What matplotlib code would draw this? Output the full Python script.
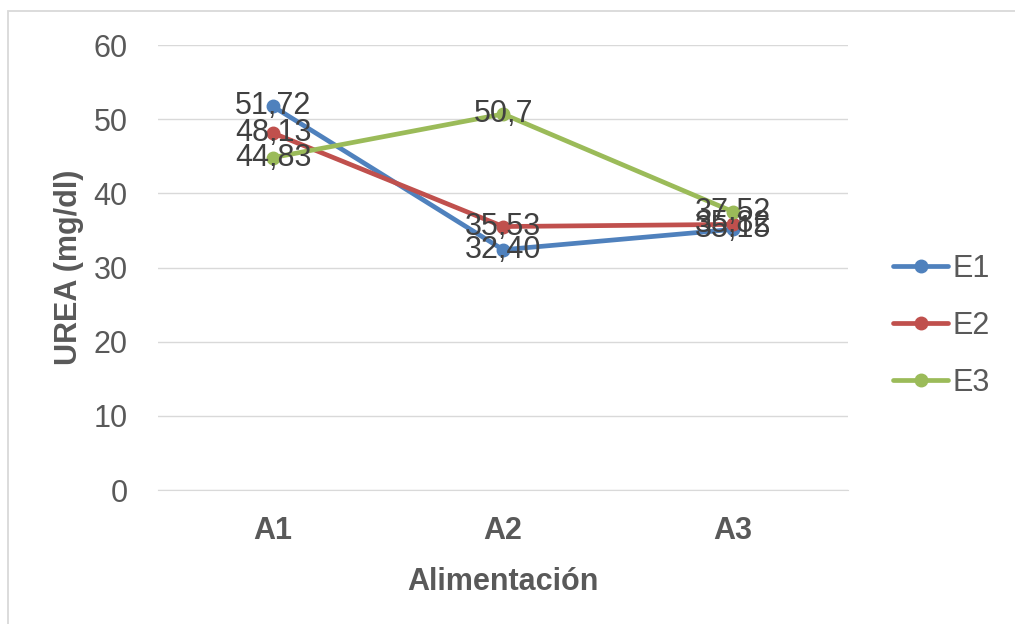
import matplotlib.pyplot as plt
from matplotlib.patches import Rectangle

plt.rcParams['font.family'] = ['Liberation Sans', 'DejaVu Sans']

categories = ['A1', 'A2', 'A3']
series_names = ['E1', 'E2', 'E3']
e1 = [51.72, 32.40, 35.15]
e2 = [48.13, 35.53, 35.82]
e3 = [44.83, 50.7, 37.52]
e1_labels = ['51,72', '32,40', '35,15']
e2_labels = ['48,13', '35,53', '35,82']
e3_labels = ['44,83', '50,7', '37,52']
colors = ['#4F81BD', '#C0504D', '#9BBB59']

fig = plt.figure(figsize=(10.15, 6.24), dpi=100)
# chart area border (cut off by the image on the right and bottom)
fig.patches.append(Rectangle((0.0079, -0.05), 1.2, 1.0324, transform=fig.transFigure,
                             fill=False, edgecolor='#D9D9D9', linewidth=1.3))
ax = fig.add_axes([0.1557, 0.2147, 0.680, 0.7131])

x = range(len(categories))
all_vals = [e1, e2, e3]
all_labels = [e1_labels, e2_labels, e3_labels]
for name, vals, labs, c in zip(series_names, all_vals, all_labels, colors):
    ax.plot(x, vals, color=c, linewidth=3.4, marker='o', markersize=9, label=name,
            solid_capstyle='round', zorder=3)
    for xi, v, t in zip(x, vals, labs):
        ax.text(xi, v, t, ha='center', va='center', fontsize=22, color='#404040', zorder=4)

ax.set_xlim(-0.5, 2.5)
ax.set_ylim(0, 60)
ax.set_yticks(range(0, 61, 10))
ax.set_xticks(list(x))
ax.set_xticklabels(categories, fontweight='bold')
ax.yaxis.grid(True, color='#D9D9D9', linewidth=1)
ax.set_axisbelow(True)
for s in ['top', 'right', 'left']:
    ax.spines[s].set_visible(False)
ax.spines['bottom'].set_color('#D9D9D9')
ax.tick_params(axis='both', length=0, labelsize=22, colors='#595959')
ax.tick_params(axis='x', pad=19)
ax.tick_params(axis='y', pad=22)
ax.set_xlabel('Alimentación', fontsize=22, fontweight='bold', color='#595959', labelpad=15)
ax.set_ylabel('UREA (mg/dl)', fontsize=22, fontweight='bold', color='#595959', labelpad=7)

fig.legend(loc='center left', bbox_to_anchor=(0.853, 0.478), frameon=False, fontsize=22,
           labelcolor='#595959', handlelength=1.8, labelspacing=0.88, handletextpad=0.15)

fig.savefig('out.png', dpi=100)
